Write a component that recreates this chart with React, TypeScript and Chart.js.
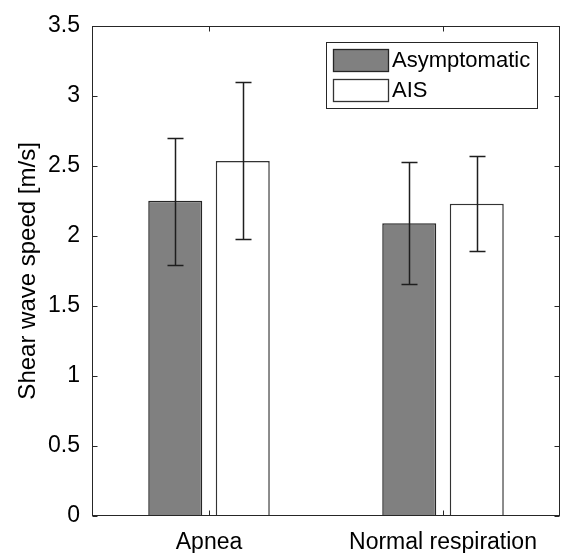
import React, { useEffect, useRef } from 'react';
import { Chart, registerables } from 'chart.js';

Chart.register(...registerables);

// ---- data ----
const categories = ['Apnea', 'Normal respiration'];
const seriesNames = ['Asymptomatic', 'AIS'];
const asymptomaticMean = [2.25, 2.09];
const aisMean = [2.535, 2.23];
const asymptomaticLow = [1.79, 1.655];
const asymptomaticHigh = [2.7, 2.525];
const aisLow = [1.975, 1.895];
const aisHigh = [3.1, 2.57];
const yAxisMin = 0;
const yAxisMax = 3.5;
const yAxisStep = 0.5;
const yAxisTitle = 'Shear wave speed [m/s]';

const FONT = "'Liberation Sans', Arial, Helvetica, sans-serif";
const AXIS = '#262626';

const errorBarsPlugin = {
  id: 'errorBarsBox',
  afterDatasetsDraw(chart: any) {
    const ctx = chart.ctx;
    const y = chart.scales.y;
    const x = chart.scales.x;
    const area = chart.chartArea;
    ctx.save();
    // error bars
    chart.data.datasets.forEach((ds: any, di: number) => {
      const meta = chart.getDatasetMeta(di);
      meta.data.forEach((el: any, i: number) => {
        const px = Math.round(el.x) + 0.5;
        const yl = Math.round(y.getPixelForValue(ds.errLow[i])) + 0.5;
        const yh = Math.round(y.getPixelForValue(ds.errHigh[i])) + 0.5;
        ctx.strokeStyle = '#1e1e1e';
        ctx.lineWidth = 1.5;
        ctx.beginPath();
        ctx.moveTo(px, yl);
        ctx.lineTo(px, yh);
        ctx.moveTo(px - 8, yl);
        ctx.lineTo(px + 8, yl);
        ctx.moveTo(px - 8, yh);
        ctx.lineTo(px + 8, yh);
        ctx.stroke();
      });
    });
    // axes box
    ctx.strokeStyle = AXIS;
    ctx.lineWidth = 1;
    const L = Math.round(area.left) + 0.5;
    const R = Math.round(area.right) - 0.5;
    const T = Math.round(area.top) + 0.5;
    const B = Math.round(area.bottom) - 0.5;
    ctx.strokeRect(L, T, R - L, B - T);
    // y ticks (inward, both sides)
    ctx.beginPath();
    y.ticks.forEach((t: any) => {
      const py = Math.round(y.getPixelForValue(t.value)) + 0.5;
      ctx.moveTo(L, py);
      ctx.lineTo(L + 5, py);
      ctx.moveTo(R, py);
      ctx.lineTo(R - 5, py);
    });
    // x ticks (inward, top and bottom)
    categories.forEach((_, i) => {
      const px = Math.round(x.getPixelForValue(i)) + 0.5;
      ctx.moveTo(px, B);
      ctx.lineTo(px, B - 5);
      ctx.moveTo(px, T);
      ctx.lineTo(px, T + 5);
    });
    ctx.stroke();

    // legend
    const lx = 326, ly = 42, lw = 211, lh = 66;
    ctx.fillStyle = '#ffffff';
    ctx.fillRect(lx, ly, lw, lh);
    ctx.strokeStyle = AXIS;
    ctx.lineWidth = 1;
    ctx.strokeRect(lx + 0.5, ly + 0.5, lw, lh);
    ctx.font = `22px ${FONT}`;
    ctx.textBaseline = 'middle';
    ctx.textAlign = 'left';
    chart.data.datasets.forEach((ds: any, di: number) => {
      const sy = 49 + di * 30;
      ctx.fillStyle = ds.backgroundColor;
      ctx.fillRect(333, sy, 55, 22);
      ctx.strokeStyle = ds.borderColor;
      ctx.lineWidth = 1.3;
      ctx.strokeRect(333.5, sy + 0.5, 55, 22);
      ctx.fillStyle = '#000000';
      ctx.fillText(ds.label, 392, sy + 12);
    });
    ctx.restore();
  },
};

export default function App() {
  const ref = useRef<HTMLCanvasElement | null>(null);

  useEffect(() => {
    if (!ref.current) return;
    const chart = new Chart(ref.current, {
      type: 'bar',
      data: {
        labels: categories,
        datasets: [
          {
            label: seriesNames[0],
            data: asymptomaticMean,
            backgroundColor: '#808080',
            borderColor: '#262626',
            borderWidth: 1.5,
            errLow: asymptomaticLow,
            errHigh: asymptomaticHigh,
          } as any,
          {
            label: seriesNames[1],
            data: aisMean,
            backgroundColor: '#ffffff',
            borderColor: '#333333',
            borderWidth: 1.5,
            errLow: aisLow,
            errHigh: aisHigh,
          } as any,
        ],
      },
      options: {
        responsive: false,
        animation: false,
        devicePixelRatio: 1,
        categoryPercentage: 0.577,
        barPercentage: 0.8,
        layout: { padding: { top: 19, right: 1, bottom: 0, left: 0 } },
        plugins: {
          legend: { display: false },
          tooltip: { enabled: false },
        },
        scales: {
          x: {
            grid: { display: false, drawTicks: false },
            border: { display: false },
            ticks: {
              color: '#000000',
              font: { family: FONT, size: 23 },
              padding: 13,
              maxRotation: 0,
            },
            afterFit(scale: any) {
              scale.height = 37;
            },
          },
          y: {
            min: yAxisMin,
            max: yAxisMax,
            grid: { display: false, drawTicks: false },
            border: { display: false },
            ticks: {
              stepSize: yAxisStep,
              color: '#000000',
              font: { family: FONT, size: 23 },
              padding: 12,
              callback: (v: any) => String(Number(v)),
            },
            title: {
              display: true,
              text: yAxisTitle,
              color: '#000000',
              font: { family: FONT, size: 24 },
              padding: { top: 14, bottom: 0 },
            },
            afterFit(scale: any) {
              scale.width = 92;
            },
          },
        },
      } as any,
      plugins: [errorBarsPlugin],
    });
    return () => chart.destroy();
  }, []);

  return (
    <div style={{ position: 'fixed', left: 0, top: 0, width: 561, height: 553, background: '#fff' }}>
      <canvas ref={ref} width={561} height={553} style={{ width: 561, height: 553, display: 'block' }} />
    </div>
  );
}
